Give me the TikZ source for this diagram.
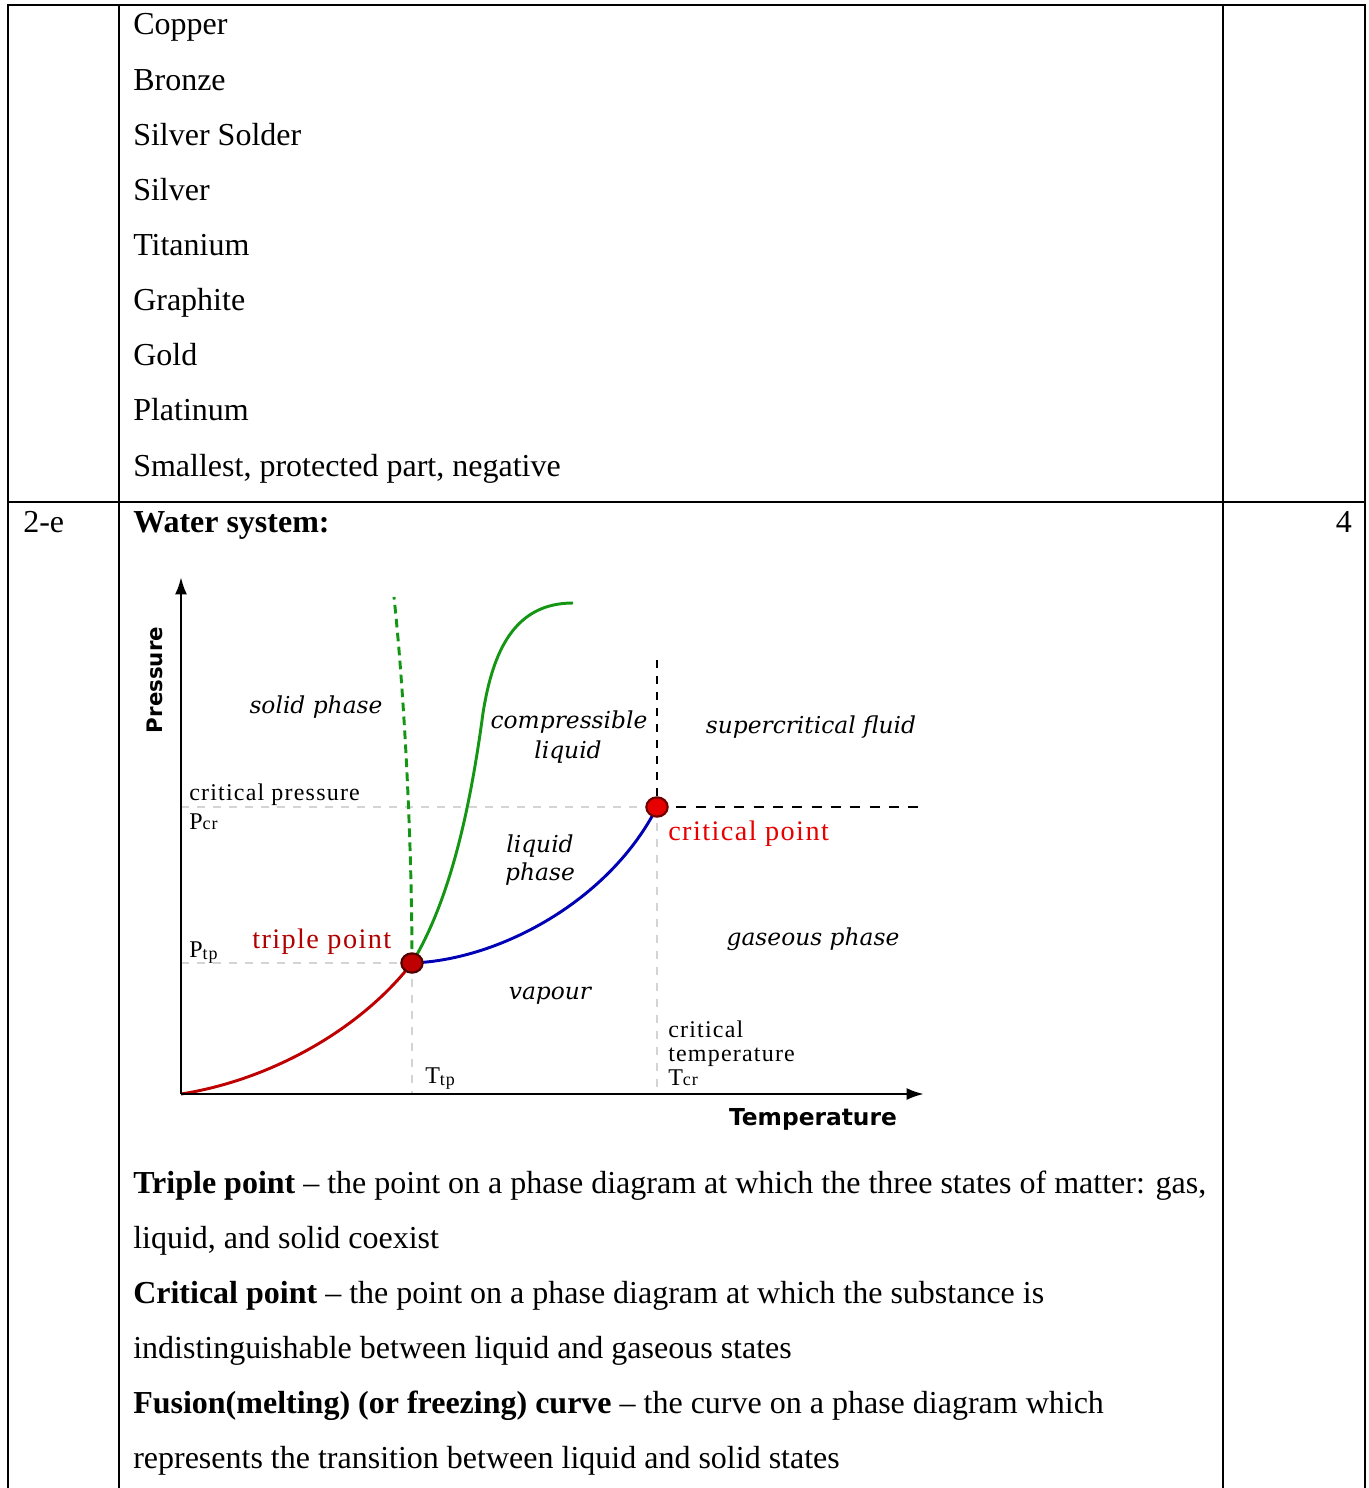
\documentclass[tikz,border=0pt]{standalone}
\usepackage{fontspec}
\setmainfont{Liberation Serif}
\newfontfamily\dsans{DejaVu Sans}
\newfontfamily\dserif{DejaVu Serif}
\newfontfamily\lsp{Liberation Serif}[LetterSpace=5]
\usetikzlibrary{arrows.meta,shapes.geometric}
\pgfdeclarelayer{bg}
\pgfsetlayers{bg,main}
\definecolor{cgreen}{RGB}{20,150,20}
\definecolor{cblue}{RGB}{0,0,180}
\definecolor{cred}{RGB}{190,0,0}
\definecolor{tplab}{RGB}{176,0,0}
\definecolor{cplab}{RGB}{230,0,0}
\definecolor{cgrey}{RGB}{212,212,212}
\begin{document}
\begin{tikzpicture}[x=0.75pt,y=-0.75pt,
  txt/.style={anchor=base west,inner sep=0pt,font=\fontsize{24pt}{28pt}\selectfont},
  tbl/.style={line width=1.5pt,line cap=rect},
  ital/.style={anchor=base,inner sep=0pt,font=\dserif\itshape\fontsize{17.5pt}{20pt}\selectfont},
  lab/.style={anchor=base west,inner sep=0pt,font=\lsp\fontsize{18pt}{20pt}\selectfont},
  axislab/.style={inner sep=0pt,font=\dsans\bfseries\fontsize{16pt}{18pt}\selectfont},
  axisline/.style={line width=2pt,-{Latex[length=13pt,width=9pt]}},
  curve/.style={line width=2.2pt},
  greydash/.style={cgrey,line width=1.5pt,dash pattern=on 6pt off 6pt},
  blackdash/.style={black,line width=1.8pt,dash pattern=on 7.5pt off 7pt},
  dot/.style={ellipse,minimum width=16pt,minimum height=14.5pt,inner sep=0pt,line width=1.6pt}
]
\useasboundingbox (0,0) rectangle (1368,1488);
% table
\coordinate (TL) at (8,5);
\coordinate (TR) at (1365,5);
\draw[tbl] (TL) -- (TR);
\draw[tbl] (8,502) -- (1365,502);
\draw[tbl] (TL) -- (8,1490);
\draw[tbl] (119,5) -- (119,1490);
\draw[tbl] (1223,5) -- (1223,1490);
\draw[tbl] (TR) -- (1365,1490);
% list
\node[txt] (t1) at (133,35) {Copper};
\node[txt] (t2) at (133,90) {Bronze};
\node[txt] (t3) at (133,145) {Silver Solder};
\node[txt] (t4) at (133,200) {Silver};
\node[txt] (t5) at (133,255) {Titanium};
\node[txt] (t6) at (133,310) {Graphite};
\node[txt] (t7) at (133,365) {Gold};
\node[txt] (t8) at (133,420) {Platinum};
\node[txt] (t9) at (133,476) {Smallest, protected part, negative};
\node[txt] (num) at (23,532) {2-e};
\node[txt] (ws) at (133,532) {\textbf{Water system:}};
\node[txt,anchor=base east] (mark) at (1352,532) {4};
% paragraphs
\node[txt] (p1) at (133,1193) {\textbf{Triple point} – the point on a phase diagram at which the three states of matter: gas,};
\node[txt] (p2) at (133,1248) {liquid, and solid coexist};
\node[txt] (p3) at (133,1303) {\textbf{Critical point} – the point on a phase diagram at which the substance is};
\node[txt] (p4) at (133,1358) {indistinguishable between liquid and gaseous states};
\node[txt] (p5) at (133,1413) {\textbf{Fusion(melting) (or freezing) curve} – the curve on a phase diagram which};
\node[txt] (p6) at (133,1468) {represents the transition between liquid and solid states};
% diagram
\coordinate (O) at (181,1094);
\coordinate (Ytop) at (181,577);
\coordinate (Xend) at (924,1094);
\coordinate (Pcr) at (181,807);
\coordinate (Ptp) at (181,963);
\coordinate (Ttp) at (412,1094);
\coordinate (Tcr) at (657,1094);
\coordinate (Cr) at (922,807);
\coordinate (Ct) at (657,660);
\coordinate (Gtop) at (573,603);
\coordinate (Dtop) at (394,597);
\node[dot,fill=cred,draw={rgb,255:red,80;green,0;blue,0}] (tp) at (412,963) {};
\node[dot,fill=cplab,draw={rgb,255:red,110;green,0;blue,0}] (cp) at (657,807) {};
\begin{pgfonlayer}{bg}
\draw[greydash] (Pcr) -- (cp.center);
\draw[greydash] (Ptp) -- (tp.center);
\draw[greydash] (tp.center) -- (Ttp);
\draw[greydash] (cp.center) -- (Tcr);
\draw[blackdash] (cp.center) -- (Cr);
\draw[black,line width=1.8pt,dash pattern=on 6pt off 6pt] (Ct) -- (cp.center);
\draw[curve,cred] (O) .. controls (270,1080) and (360,1030) .. (tp.center);
\draw[curve,cblue] (tp.center) .. controls (500,960) and (610,900) .. (cp.center);
\draw[curve,cgreen] (tp.center) .. controls (450,900) and (470,810) .. (483,713) .. controls (493,650) and (515,603) .. (Gtop);
\draw[curve,cgreen,dash pattern=on 6.5pt off 4pt] (tp.center) .. controls (412,850) and (405,700) .. (Dtop);
\end{pgfonlayer}
\draw[axisline] (O) -- (Ytop);
\draw[axisline] (O) -- (Xend);
\node[axislab,rotate=90] (press) at (155,680) {Pressure};
\node[axislab,anchor=base,font=\dsans\bfseries\fontsize{17.5pt}{18pt}\selectfont] (temp) at (813,1125) {Temperature};
\node[ital] (solid) at (316,713) {solid phase};
\node[ital] (comp1) at (569,728) {compressible};
\node[ital] (comp2) at (568,758) {liquid};
\node[ital] (scf) at (811,733) {supercritical fluid};
\node[ital] (liq1) at (540,852) {liquid};
\node[ital] (liq2) at (540,880) {phase};
\node[ital] (gas) at (813,945) {gaseous phase};
\node[ital] (vap) at (550,999) {vapour};
\node[lab] (cpress) at (189,800) {critical pressure};
\node[lab] (pcrl) at (189,829) {P{\fontsize{13.5pt}{14pt}\selectfont cr}};
\node[lab] (ptpl) at (189,957) {P{\fontsize{13.5pt}{14pt}\selectfont\raisebox{-2pt}{tp}}};
\node[lab] (ttpl) at (425,1083) {T{\fontsize{13.5pt}{14pt}\selectfont\raisebox{-2pt}{tp}}};
\node[lab] (ct1) at (668,1037) {critical};
\node[lab] (ct2) at (668,1061) {temperature};
\node[lab] (tcrl) at (668,1085) {T{\fontsize{13.5pt}{14pt}\selectfont cr}};
\node[lab,text=tplab,font=\lsp\fontsize{21.2pt}{22pt}\selectfont] (tpl) at (252,948) {triple point};
\node[lab,text=cplab,font=\lsp\fontsize{21.2pt}{22pt}\selectfont] (cpl) at (668,840) {critical point};
\end{tikzpicture}
\end{document}
